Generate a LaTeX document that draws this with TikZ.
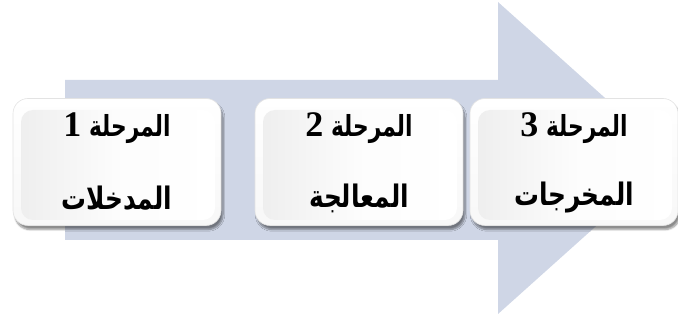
\documentclass[tikz,border=0pt]{standalone}
\usepackage{fontspec}
\TeXXeTstate=1
\newfontfamily\arabicfont[Script=Arabic,FakeStretch=0.75]{DejaVu Sans}
\newfontfamily\arabicwide[Script=Arabic,FakeStretch=0.8]{DejaVu Sans}
\newfontfamily\numfont{Liberation Serif}
\usetikzlibrary{shadows.blur}
\definecolor{arrowfill}{HTML}{CFD6E6}
\tikzset{
  stagebox/.style={rounded corners=15pt, minimum width=208pt, minimum height=127pt,
    draw=gray!22, line width=0.6pt, top color=white, bottom color=gray!6,
    blur shadow={shadow xshift=2pt, shadow yshift=-4pt, shadow blur steps=8, shadow opacity=45}},
  innerglow/.style={rounded corners=12pt, minimum width=194pt, minimum height=110pt,
    left color=gray!13, right color=white, middle color=white!98!gray, draw=none},
  headline/.style={font=\arabicfont\bfseries\fontsize{29}{34}\selectfont},
  subline/.style={font=\arabicwide\bfseries\fontsize{31}{36}\selectfont},
  stagenum/.style={font=\numfont\bfseries\fontsize{36}{40}\selectfont},
}
\begin{document}
\begin{tikzpicture}[x=1pt,y=-1pt]
\useasboundingbox (0,0) rectangle (678,323);
% background process arrow
\fill[arrowfill] (65,80) -- (498,80) -- (498,2) -- (672,158) -- (498,314)
  -- (498,240) -- (65,240) -- cycle;
% stage boxes
\foreach \n/\cx in {1/117, 2/359, 3/574} {
  \node[stagebox] (box\n) at (\cx,162) {};
  \node[innerglow] (glow\n) at (\cx+1,165) {};
}
% labels
\node[headline] (head1) at (117,128) {\beginR المرحلة {\numfont\fontsize{36}{40}\selectfont\bfseries 1}\endR};
\node[subline]  (sub1)  at (117,198) {\beginR المدخلات\endR};
\node[headline] (head2) at (359,128) {\beginR المرحلة {\numfont\fontsize{36}{40}\selectfont\bfseries 2}\endR};
\node[subline]  (sub2)  at (359,198) {\beginR المعالجة\endR};
\node[headline] (head3) at (574,128) {\beginR المرحلة {\numfont\fontsize{36}{40}\selectfont\bfseries 3}\endR};
\node[subline]  (sub3)  at (574,198) {\beginR المخرجات\endR};
\end{tikzpicture}
\end{document}
